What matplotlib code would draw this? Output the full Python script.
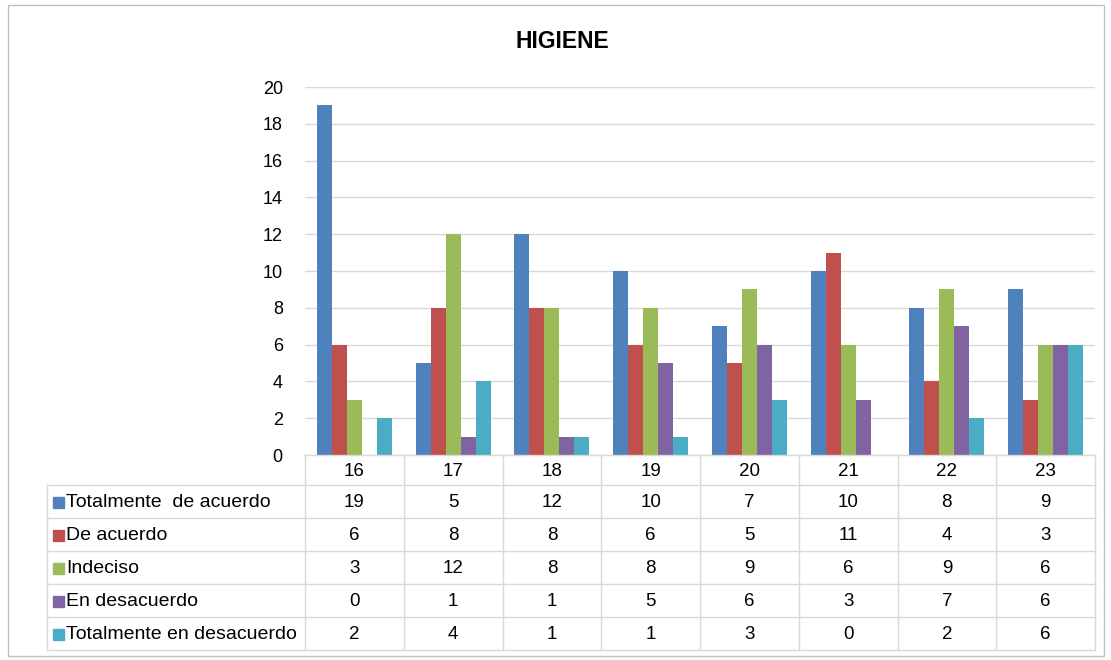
import numpy as np
import matplotlib.pyplot as plt
from matplotlib.patches import Rectangle
from matplotlib.lines import Line2D

plt.rcParams['font.family'] = ['Liberation Sans', 'DejaVu Sans']

# data
categories = ['16', '17', '18', '19', '20', '21', '22', '23']
series_names = ['Totalmente  de acuerdo', 'De acuerdo', 'Indeciso',
                'En desacuerdo', 'Totalmente en desacuerdo']
tot_acuerdo = [19, 5, 12, 10, 7, 10, 8, 9]
de_acuerdo = [6, 8, 8, 6, 5, 11, 4, 3]
indeciso = [3, 12, 8, 8, 9, 6, 9, 6]
en_desacuerdo = [0, 1, 1, 5, 6, 3, 7, 6]
tot_desacuerdo = [2, 4, 1, 1, 3, 0, 2, 6]
colors = ['#4F81BD', '#C0504D', '#9BBB59', '#8064A2', '#4BACC6']
values = [tot_acuerdo, de_acuerdo, indeciso, en_desacuerdo, tot_desacuerdo]

W, H = 1111, 660
fig = plt.figure(figsize=(W / 100, H / 100), dpi=100)

def fx(px):
    return px / W

def fy(py):
    return 1 - py / H

# outer chart border
fig.patches.append(Rectangle((fx(8), fy(656)), fx(1104) - fx(8), fy(5) - fy(656),
                             transform=fig.transFigure, fill=False,
                             edgecolor='#BFBFBF', linewidth=1))

left, right, top, bottom = 305, 1095, 87, 455
ax = fig.add_axes([fx(left), fy(bottom), fx(right) - fx(left), fy(top) - fy(bottom)])

x = np.arange(len(categories))
bw = 0.152
for i, (vals, c) in enumerate(zip(values, colors)):
    ax.bar(x + (i - 2) * bw, vals, width=bw, color=c, zorder=3)

ax.set_xlim(-0.5, len(categories) - 0.5)
ax.set_ylim(0, 20)
ax.set_yticks(range(0, 21, 2))
ax.set_xticks([])
ax.grid(axis='y', color='#D9D9D9', linewidth=1, zorder=0)
for s in ['top', 'right', 'left', 'bottom']:
    ax.spines[s].set_visible(False)
ax.tick_params(axis='y', length=0, labelsize=13, pad=16, colors='#000000')

fig.text(fx(562), fy(42), 'HIGIENE', ha='center', va='center',
         fontsize=16.5, fontweight='bold')

# data table below the chart
tl = 47
row_h = 33
hdr_bottom = 485
n_rows = len(series_names)
tab_bottom = hdr_bottom + n_rows * row_h
cw = (right - left) / len(categories)
lc = '#D9D9D9'

def hline(y, x0, x1):
    fig.add_artist(Line2D([fx(x0), fx(x1)], [fy(y), fy(y)], color=lc, linewidth=1))

def vline(xp, y0, y1):
    fig.add_artist(Line2D([fx(xp), fx(xp)], [fy(y0), fy(y1)], color=lc, linewidth=1))

hline(bottom, left, right)
for r in range(n_rows + 1):
    hline(hdr_bottom + r * row_h, tl, right)
vline(tl, hdr_bottom, tab_bottom)
for j in range(len(categories) + 1):
    vline(left + j * cw, bottom, tab_bottom)

for j, cat in enumerate(categories):
    fig.text(fx(left + (j + 0.5) * cw), fy((bottom + hdr_bottom) / 2 + 1), cat,
             ha='center', va='center', fontsize=13.5)

for r, (name, vals, c) in enumerate(zip(series_names, values, colors)):
    yc = hdr_bottom + (r + 0.5) * row_h
    fig.patches.append(Rectangle((fx(53), fy(yc + 6)), fx(11), fx(11) * W / H,
                                 transform=fig.transFigure, color=c))
    fig.text(fx(66), fy(yc + 1), name, ha='left', va='center', fontsize=14)
    for j, v in enumerate(vals):
        fig.text(fx(left + (j + 0.5) * cw), fy(yc + 1), str(v),
                 ha='center', va='center', fontsize=13.5)

fig.savefig('out.png', dpi=100)
